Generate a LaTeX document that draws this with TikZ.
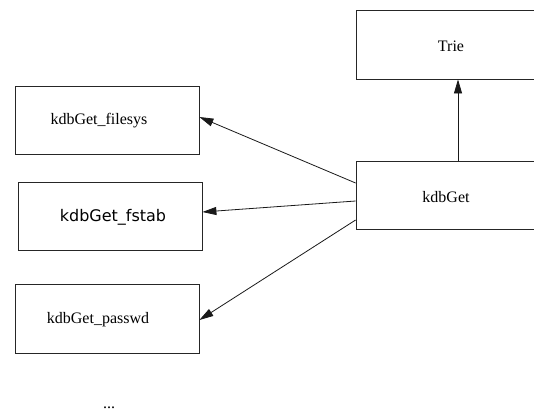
\documentclass[tikz,border=0pt]{standalone}
\usepackage{fontspec}
\setmainfont{Liberation Serif}
\newfontfamily\sansdejavu{DejaVu Sans}
\usetikzlibrary{arrows.meta}
\begin{document}
\begin{tikzpicture}[x=1pt,y=-1pt,
  box/.style={draw=black!85,line width=0.8pt,inner sep=0pt},
  lbl/.style={font=\fontsize{16}{19}\selectfont,inner sep=0pt},
  link/.style={draw=black!90,line width=0.8pt,-{Triangle[length=14pt,width=8pt]}}]
  \useasboundingbox (0,0) rectangle (534,410);
  \clip (0,0) rectangle (534,410);

  % boxes
  \node[box,minimum width=204pt,minimum height=69pt] (trie) at (458,44.5) {};
  \node[box,minimum width=204pt,minimum height=68pt] (kg) at (458,195) {};
  \node[box,minimum width=184pt,minimum height=68pt] (fs) at (107,120) {};
  \node[box,minimum width=184pt,minimum height=68pt] (ft) at (110,216) {};
  \node[box,minimum width=184pt,minimum height=69pt] (pw) at (107,318.5) {};

  % labels
  \node[lbl] (trieL) at (451,46) {Trie};
  \node[lbl] (kgL) at (446,197) {kdbGet};
  \node[lbl] (fsL) at (99,121) {kdbGet\_filesys};
  \node[lbl,font=\sansdejavu\fontsize{16}{19}\selectfont] (ftL) at (113,217) {kdbGet\_fstab};
  \node[lbl] (pwL) at (98,320) {kdbGet\_passwd};
  \node[lbl,anchor=base] (more) at (109,408.5) {...};

  % calls
  \draw[link] (kg.north) -- (trie.south);
  \draw[link] ([yshift=12pt]kg.west) -- ([yshift=3pt]fs.east);
  \draw[link] ([yshift=-6pt]kg.west) -- ([yshift=4pt]ft.east);
  \draw[link] ([yshift=-25pt]kg.west) -- ([yshift=-1.5pt]pw.east);
\end{tikzpicture}
\end{document}
